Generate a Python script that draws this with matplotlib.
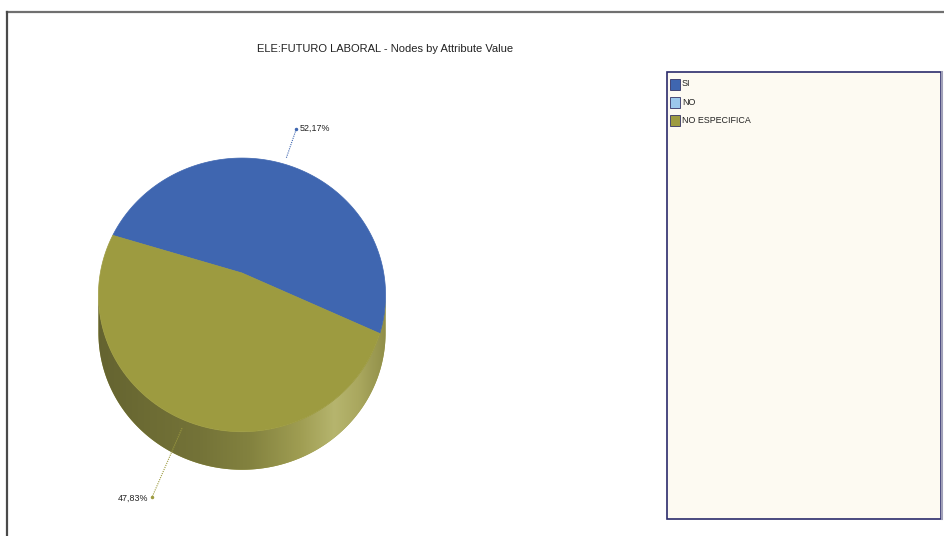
import numpy as np
import matplotlib.pyplot as plt
from matplotlib.patches import Polygon, Rectangle
import matplotlib.colors as mcolors

title = "ELE:FUTURO LABORAL - Nodes by Attribute Value"
categories = ["SI", "NO", "NO ESPECIFICA"]
values = [52.17, 0.0, 47.83]
label_texts = ["52,17%", "", "47,83%"]
colors = ["#3F66B0", "#9CC8EC", "#9D9B40"]

plt.rcParams['font.family'] = ["Liberation Sans", "DejaVu Sans"]

W, H = 945, 536
fig = plt.figure(figsize=(W / 100, H / 100), dpi=100)
ax = fig.add_axes([0, 0, 1, 1])
ax.set_xlim(0, W)
ax.set_ylim(H, 0)
ax.axis('off')

# outer frame (top and left)
ax.plot([7, W], [12, 12], color="#707070", lw=1.6)
ax.plot([7, 7], [12, H], color="#4a4a4a", lw=1.6)

ax.text(385, 49, title, ha='center', va='center', fontsize=8, color="#222222")

# pie geometry (pixel space, perspective tilt)
cx, cy = 242, 273
R, k, p = 141.7, 0.941, 0.16
depth = 38
start = 162.8


def proj(t, dz=0.0):
    s = 1.0 / (1 + p * np.sin(t))
    return cx + R * np.cos(t) * s, cy - R * k * np.sin(t) * s + dz


total = sum(values)
bounds = []
a = start
for v in values:
    span = 360.0 * v / total
    bounds.append((a - span, a))
    a -= span

# side of the cylinder (front part between silhouettes)
tsil = np.degrees(np.arcsin(-p))
tl, tr = -180 - tsil, tsil
ts = np.radians(np.linspace(tl, tr, 300))
xt, yt = proj(ts)
side_pts = list(zip(xt, yt)) + list(zip(xt[::-1], yt[::-1] + depth))
side_poly = Polygon(side_pts, closed=True, facecolor=colors[2], edgecolor='none')
ax.add_patch(side_poly)

stops_x = [95, 150, 200, 250, 300, 335, 360, 390]
stops_c = ["#646330", "#6d6c34", "#747338", "#83823f", "#9f9d52", "#b6b56e", "#a9a75e", "#8d8b45"]
xs_img = np.linspace(95, 390, 300)
rgb = np.array([mcolors.to_rgb(c) for c in stops_c])
img_row = np.stack([np.interp(xs_img, stops_x, rgb[:, j]) for j in range(3)], axis=-1)
img = np.repeat(img_row[None, :, :], 4, axis=0)
im = ax.imshow(img, extent=(95, 390, 480, 250), aspect='auto', interpolation='bilinear', zorder=1.5)
im.set_clip_path(side_poly)

# top faces
for i, (lo, hi) in enumerate(bounds):
    if values[i] <= 0:
        continue
    tt = np.radians(np.linspace(hi, lo, 300))
    xs, ys = proj(tt)
    pts = [(cx, cy)] + list(zip(xs, ys))
    ax.add_patch(Polygon(pts, closed=True, facecolor=colors[i], edgecolor=colors[i],
                         lw=0.5, zorder=2))

# labels with leader lines
label_offsets = [(10, -29), None, (-30, 69)]
for i, (lo, hi) in enumerate(bounds):
    if values[i] <= 0:
        continue
    mid = np.radians(0.5 * (lo + hi))
    x, y = proj(mid)
    y += 9 if np.sin(mid) < 0 else -7
    dx, dy = label_offsets[i]
    tx, ty = x + dx, y + dy
    ax.plot([x, tx], [y, ty], color=colors[i], lw=0.8, ls=(0, (1, 1)), zorder=3)
    ax.plot([tx], [ty], marker='o', ms=1.5, color=colors[i], zorder=3)
    if dx > 0:
        ax.text(tx + 3, ty, label_texts[i], ha='left', va='center', fontsize=6.4, color="#222222")
    else:
        ax.text(tx - 4, ty + 1, label_texts[i], ha='right', va='center', fontsize=6.4, color="#222222")

# legend box
ax.add_patch(Rectangle((667, 72), 274, 447, facecolor="#FDFAF2", edgecolor="#2B2B6B", lw=1.2))
ax.plot([941.5, 941.5], [72, 519], color="#a0a0b8", lw=1.5)
for i, name in enumerate(categories):
    y = 84 + i * 18.3
    ax.add_patch(Rectangle((670, y - 5.5), 10, 11, facecolor=colors[i], edgecolor="#333366", lw=0.6))
    ax.text(682, y, name, ha='left', va='center', fontsize=6.4, color="#222222")

fig.savefig("out.png", dpi=100)
